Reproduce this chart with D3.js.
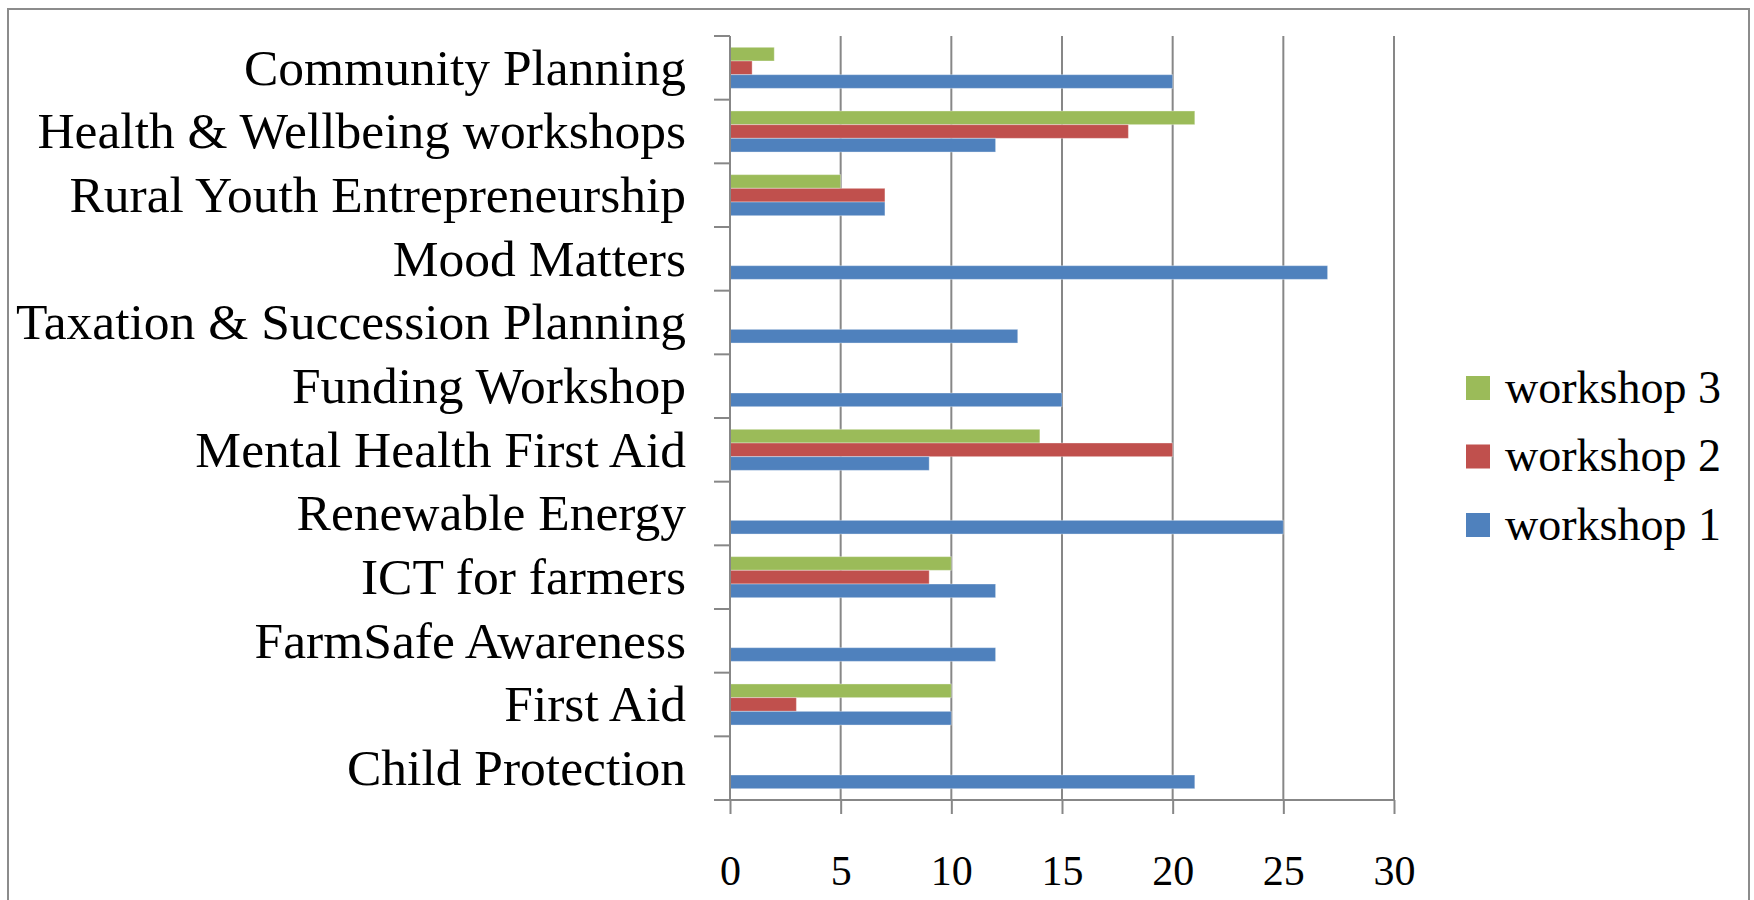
<!DOCTYPE html>
<html>
<head>
<meta charset="utf-8">
<script src="https://d3js.org/d3.v7.min.js"></script>
<style>
  body { margin: 0; background: #fff; }
  text { font-family: "Liberation Serif", "DejaVu Serif", serif; fill: #000; }
</style>
</head>
<body>
<script>
// categories, top to bottom
const categories = [
  "Community Planning",
  "Health & Wellbeing workshops",
  "Rural Youth Entrepreneurship",
  "Mood Matters",
  "Taxation & Succession Planning",
  "Funding Workshop",
  "Mental Health First Aid",
  "Renewable Energy",
  "ICT for farmers",
  "FarmSafe Awareness",
  "First Aid",
  "Child Protection"
];
const workshop1 = [20, 12, 7, 27, 13, 15, 9, 25, 12, 12, 10, 21];
const workshop2 = [1, 18, 7, 0, 0, 0, 20, 0, 9, 0, 3, 0];
const workshop3 = [2, 21, 5, 0, 0, 0, 14, 0, 10, 0, 10, 0];
const seriesNames = ["workshop 3", "workshop 2", "workshop 1"];
const seriesColors = ["#9BBB59", "#C0504D", "#4F81BD"];
const xTicks = [0, 5, 10, 15, 20, 25, 30];

const series = [workshop3, workshop2, workshop1];

const width = 1754, height = 900;
const svg = d3.select("body").append("svg")
    .attr("width", width)
    .attr("height", height);

// chart frame
svg.append("rect")
    .attr("x", 8).attr("y", 9)
    .attr("width", 1741).attr("height", 920)
    .attr("fill", "#fff")
    .attr("stroke", "#8c8c8c")
    .attr("stroke-width", 2);

const x = d3.scaleLinear().domain([0, 30]).range([730, 1394]);
const y = d3.scaleBand().domain(categories).range([36, 800])
    .paddingInner(0.355).paddingOuter(0.1775);
const ys = d3.scaleBand().domain(seriesNames).range([0, y.bandwidth()]);

// gridlines
svg.append("g")
  .selectAll("line")
  .data(xTicks.filter(d => d > 0))
  .join("line")
    .attr("x1", d => x(d)).attr("x2", d => x(d))
    .attr("y1", y.range()[0]).attr("y2", y.range()[1])
    .attr("stroke", "#878787")
    .attr("stroke-width", 2);

// bars
const rows = categories.map((c, i) => ({c, vals: series.map((s, j) => ({name: seriesNames[j], v: s[i], color: seriesColors[j]}))}));

svg.append("g")
  .selectAll("g")
  .data(rows)
  .join("g")
    .attr("transform", d => `translate(0,${y(d.c)})`)
  .selectAll("rect")
  .data(d => d.vals.filter(v => v.v > 0))
  .join("rect")
    .attr("x", x(0))
    .attr("y", d => ys(d.name))
    .attr("width", d => x(d.v) - x(0))
    .attr("height", ys.bandwidth())
    .attr("fill", d => d.color)
    .attr("stroke", "rgba(255,255,255,0.35)")
    .attr("stroke-width", 1);

// category axis: line plus ticks at band boundaries
const step = y.step();
const bounds = categories.map(c => y(c) - y.paddingInner() * step / 2)
    .concat([y.range()[1]]);
const yAxis = svg.append("g").attr("stroke", "#878787").attr("stroke-width", 2);
yAxis.append("line")
    .attr("x1", x(0)).attr("x2", x(0))
    .attr("y1", y.range()[0]).attr("y2", y.range()[1]);
yAxis.selectAll("line.tick")
  .data(bounds)
  .join("line")
    .attr("class", "tick")
    .attr("x1", x(0) - 16).attr("x2", x(0))
    .attr("y1", d => d).attr("y2", d => d);

svg.append("g")
  .selectAll("text")
  .data(categories)
  .join("text")
    .attr("x", 686)
    .attr("y", d => y(d) + y.bandwidth() / 2)
    .attr("dy", "0.33em")
    .attr("text-anchor", "end")
    .attr("font-size", 51.5)
    .text(d => d);

// value axis
const xAxis = svg.append("g")
    .attr("transform", `translate(0,${y.range()[1]})`)
    .call(d3.axisBottom(x).tickValues(xTicks).tickSize(14).tickSizeOuter(0));
xAxis.select(".domain").remove();
xAxis.append("line")
    .attr("x1", x(0) - 16).attr("x2", x(30))
    .attr("stroke", "#878787").attr("stroke-width", 2);
xAxis.selectAll(".tick line").attr("stroke", "#878787").attr("stroke-width", 2);
xAxis.selectAll(".tick text")
    .attr("y", 70)
    .attr("dy", "0.35em")
    .attr("font-size", 42)
    .attr("font-family", "Liberation Serif, serif")
    .attr("fill", "#000")
    .style("font-variant-numeric", "oldstyle-nums");

// legend
const legend = svg.append("g")
  .selectAll("g")
  .data(seriesNames)
  .join("g")
    .attr("transform", (d, i) => `translate(1466,${376 + i * 68.5})`);
legend.append("rect")
    .attr("width", 24).attr("height", 24)
    .attr("fill", (d, i) => seriesColors[i]);
legend.append("text")
    .attr("x", 39)
    .attr("y", 12)
    .attr("dy", "0.32em")
    .attr("font-size", 46)
    .text(d => d);
</script>
</body>
</html>
